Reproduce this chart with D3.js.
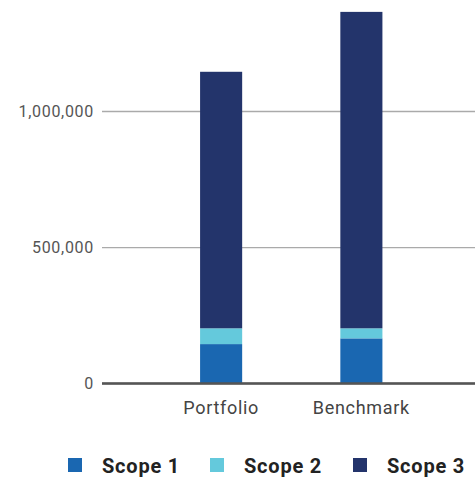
<!DOCTYPE html>
<html>
<head>
<meta charset="utf-8">
<script src="https://cdn.jsdelivr.net/npm/d3@7"></script>
<style>
  html, body { margin: 0; padding: 0; background: #fff; }
  svg { display: block; }
</style>
</head>
<body>
<svg id="chart" width="475" height="477"></svg>
<script>
// Emissions by scope (tCO2e)
const categories = ["Portfolio", "Benchmark"];
const seriesNames = ["Scope 1", "Scope 2", "Scope 3"];
const scope1 = [144000, 165000];
const scope2 = [58000, 37000];
const scope3 = [942000, 1162000];
const yTicks = [0, 500000, 1000000];
const colors = ["#1a67b1", "#64c9dc", "#23346b"];

const rows = categories.map((c, i) => ({
  category: c,
  "Scope 1": scope1[i],
  "Scope 2": scope2[i],
  "Scope 3": scope3[i]
}));

const svg = d3.select("#chart");
const plotLeft = 102, plotRight = 475;
const y0 = 383.3, pxPerMillion = 272.3;

const y = d3.scaleLinear()
  .domain([0, 1400000])
  .range([y0, y0 - 1.4 * pxPerMillion]);

const x = d3.scaleBand()
  .domain(categories)
  .range([151, 431.5])
  .paddingInner(0.7)
  .paddingOuter(0.35);

const color = d3.scaleOrdinal().domain(seriesNames).range(colors);

// the value labels sit in a panel whose left edge trims the widest one
svg.append("defs").append("clipPath").attr("id", "label-clip")
  .append("rect").attr("x", 16).attr("y", 0).attr("width", 459).attr("height", 477);

// gridlines + y labels
const yAxis = d3.axisLeft(y)
  .tickValues(yTicks)
  .tickSize(-(plotRight - plotLeft))
  .tickPadding(8)
  .tickFormat(d3.format(","));

const gy = svg.append("g")
  .attr("clip-path", "url(#label-clip)")
  .append("g")
  .attr("transform", `translate(${plotLeft},0)`)
  .call(yAxis);
gy.select(".domain").remove();
gy.selectAll(".tick line")
  .attr("stroke", d => d === 0 ? "#555" : "#aaa")
  .attr("stroke-width", d => d === 0 ? 2 : 1.3);
gy.selectAll(".tick text")
  .attr("fill", "#555")
  .style("font-family", "Roboto, sans-serif")
  .style("font-size", "16px")
  .style("letter-spacing", "0.7px");

// stacked bars
const stack = d3.stack().keys(seriesNames);
const layers = stack(rows);

svg.append("g")
  .selectAll("g")
  .data(layers)
  .join("g")
  .attr("fill", d => color(d.key))
  .selectAll("rect")
  .data(d => d)
  .join("rect")
  .attr("x", d => x(d.data.category))
  .attr("width", x.bandwidth())
  .attr("y", d => y(d[1]))
  .attr("height", d => y(d[0]) - y(d[1]));

// redraw the baseline over the bars
svg.append("line")
  .attr("x1", plotLeft).attr("x2", plotRight)
  .attr("y1", y(0)).attr("y2", y(0))
  .attr("stroke", "#555").attr("stroke-width", 2);

// x labels
const xAxis = d3.axisBottom(x).tickSize(0).tickPadding(18);
const gx = svg.append("g")
  .attr("transform", `translate(0,${y(0)})`)
  .call(xAxis);
gx.select(".domain").remove();
gx.selectAll(".tick text")
  .attr("fill", "#444")
  .style("font-family", "Roboto, sans-serif")
  .style("font-size", "18px")
  .style("letter-spacing", "0.7px");

// legend
const legendX = [68, 210, 353];
const legend = svg.append("g").attr("transform", "translate(0,458)");
const items = legend.selectAll("g")
  .data(seriesNames)
  .join("g")
  .attr("transform", (d, i) => `translate(${legendX[i]},0)`);
items.append("rect")
  .attr("width", 14).attr("height", 14)
  .attr("fill", d => color(d));
items.append("text")
  .attr("x", 34).attr("y", 7.5)
  .attr("dy", "0.35em")
  .attr("fill", "#222")
  .style("font-family", "Roboto, sans-serif")
  .style("font-size", "20px")
  .style("font-weight", "700")
  .style("letter-spacing", "0.8px")
  .text(d => d);
</script>
</body>
</html>
